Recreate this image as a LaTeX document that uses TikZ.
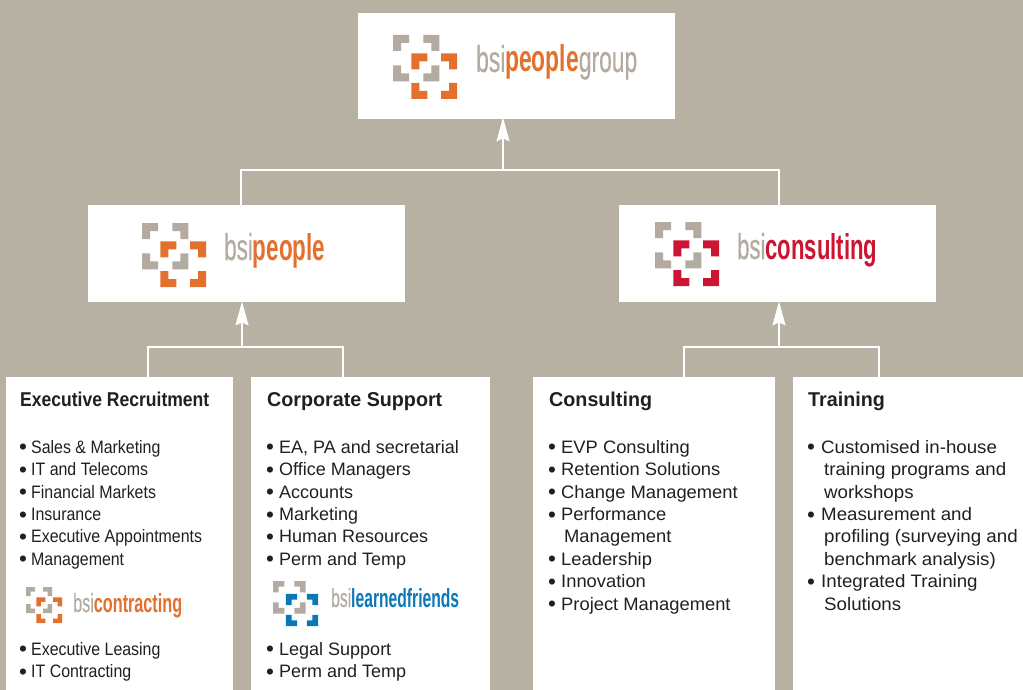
\documentclass[tikz,border=0pt]{standalone}
\usepackage{fontspec}
\usepackage{graphicx}
\setmainfont{Liberation Sans}
\newfontfamily\bodyfont[FakeStretch=0.885]{Liberation Sans}
\newfontfamily\bodywide{Liberation Sans}
\newfontfamily\bodythree[FakeStretch=1.02]{Liberation Sans}
\newfontfamily\bodyfour[FakeStretch=1.04]{Liberation Sans}
\newfontfamily\headfont[FakeStretch=0.877]{Liberation Sans Bold}
\newfontfamily\headwide[FakeStretch=0.985]{Liberation Sans Bold}
\newfontfamily\logoreg[FakeBold=0.4]{Liberation Sans}
\newfontfamily\logobold{Liberation Sans Bold}
\usetikzlibrary{arrows.meta}
\definecolor{bgc}{RGB}{183,177,163}
\definecolor{logogray}{RGB}{179,171,160}
\definecolor{bsiorange}{RGB}{227,112,45}
\definecolor{bsired}{RGB}{204,21,51}
\definecolor{bsiblue}{RGB}{10,120,184}
\definecolor{ink}{RGB}{35,31,32}
\newcommand{\dotmark}{\hspace*{-1pt}\raisebox{-1.6pt}{\scalebox{1.25}{\bodywide\textbullet}}}
\newcommand{\bul}[1]{\makebox[11pt][l]{\dotmark}#1}
\newcommand{\bulb}[1]{\makebox[12pt][l]{\dotmark}#1}
\newcommand{\bulc}[1]{\makebox[13pt][l]{\dotmark}#1}
\newcommand{\cont}[1]{\hspace*{15pt}#1}
\newcommand{\contb}[1]{\hspace*{16pt}#1}
% corner bracket: corner point, direction
\newcommand{\brk}[5]{\fill[#1] (#2,#3) -- ++(#4*48,0) -- ++(0,#5*24) -- ++(-#4*24,0) -- ++(0,#5*24) -- ++(-#4*24,0) -- cycle;}
\newcommand{\bsilogo}[4]{%x,y,size,colour
\begin{scope}[shift={(#1,#2)},x=#3/192*1pt,y=-#3/192*1pt]
\brk{logogray}{0}{0}{1}{1}
\brk{logogray}{139}{0}{-1}{1}
\brk{#4}{55}{55}{1}{1}
\brk{#4}{192}{55}{-1}{1}
\brk{logogray}{0}{139}{1}{-1}
\brk{logogray}{139}{139}{-1}{-1}
\brk{#4}{55}{192}{1}{-1}
\brk{#4}{192}{192}{-1}{-1}
\end{scope}}
\tikzset{
 panel/.style={fill=white,draw=none,inner sep=0pt,anchor=north west},
 wire/.style={draw=white,line width=1.3pt},
 arrowwire/.style={wire,-{Stealth[length=24pt,width=13pt,inset=3pt]}},
 heading/.style={anchor=base west,inner sep=0pt,text=ink,font=\headwide\fontsize{20}{24}\selectfont},
 listing/.style={anchor=north west,inner sep=0pt,align=left,text=ink,font=\bodywide\fontsize{18}{22.4}\selectfont},
 logotext/.style={anchor=base west,inner sep=0pt},
}
\begin{document}
\begin{tikzpicture}[x=1pt,y=-1pt]
\useasboundingbox (0,0) rectangle (1023,690);
\fill[bgc] (0,0) rectangle (1023,690);
% panels
\node[panel,minimum width=317pt,minimum height=106pt] (group) at (358,13) {};
\node[panel,minimum width=317pt,minimum height=97pt] (people) at (88,205) {};
\node[panel,minimum width=317pt,minimum height=97pt] (consulting) at (619,205) {};
\node[panel,minimum width=227pt,minimum height=313pt] (exec) at (6,377) {};
\node[panel,minimum width=239pt,minimum height=313pt] (corp) at (251,377) {};
\node[panel,minimum width=242pt,minimum height=313pt] (cons) at (533,377) {};
\node[panel,minimum width=230pt,minimum height=313pt] (train) at (793,377) {};
% junction points
\coordinate (jtop) at (503,170);
\coordinate (jpeople) at (241,170);
\coordinate (jcons) at (779,170);
\coordinate (jleft) at (242,347);
\coordinate (jexec) at (148,347);
\coordinate (jcorp) at (343,347);
\coordinate (jright) at (779,347);
\coordinate (jconsl) at (684,347);
\coordinate (jtrain) at (879,347);
% connectors
\draw[wire] (jpeople |- people.north) -- (jpeople) -- (jcons) -- (jcons |- consulting.north);
\draw[arrowwire] (jtop) -- ([yshift=2pt]jtop |- group.south);
\draw[wire] (jexec |- exec.north) -- (jexec) -- (jcorp) -- (jcorp |- corp.north);
\draw[arrowwire] (jleft) -- ([yshift=1pt]jleft |- people.south);
\draw[wire] (jconsl |- cons.north) -- (jconsl) -- (jtrain) -- (jtrain |- train.north);
\draw[arrowwire] (jright) -- ([yshift=1pt]jright |- consulting.south);
% logos
\bsilogo{393}{35}{64}{bsiorange}
\node[logotext] (tgroup) at (476,72) {\resizebox{161pt}{27pt}{\fontsize{37}{40}\logoreg\textcolor{logogray}{bsi}\textcolor{bsiorange}{\logobold people}\textcolor{logogray}{group}}};
\bsilogo{142}{223}{64}{bsiorange}
\node[logotext] (tpeople) at (224,260) {\resizebox{101pt}{27pt}{\fontsize{37}{40}\logoreg\textcolor{logogray}{bsi}\textcolor{bsiorange}{\logobold people}}};
\bsilogo{655}{222}{64}{bsired}
\node[logotext] (tconsulting) at (737,259) {\resizebox{140pt}{26pt}{\fontsize{37}{40}\logoreg\textcolor{logogray}{bsi}\textcolor{bsired}{\logobold consulting}}};
\bsilogo{26}{587}{36}{bsiorange}
\node[logotext] (tcontracting) at (73,612) {\resizebox{109pt}{19pt}{\fontsize{26}{30}\logoreg\textcolor{logogray}{bsi}\textcolor{bsiorange}{\logobold contracting}}};
\bsilogo{273}{581}{45}{bsiblue}
\node[logotext] (tlearned) at (331,607) {\resizebox{128pt}{19pt}{\fontsize{26}{30}\logoreg\textcolor{logogray}{bsi}\textcolor{bsiblue}{\logobold learnedfriends}}};
% headings
\node[heading,font=\headfont\fontsize{20}{24}\selectfont] (h1) at (20,406) {Executive Recruitment};
\node[heading] (h2) at (267,406) {Corporate Support};
\node[heading] (h3) at (549,406) {Consulting};
\node[heading] (h4) at (808,406) {Training};
% lists
\node[listing,font=\bodyfont\fontsize{18}{22.4}\selectfont] (l1) at (20,440) {\bul{Sales \& Marketing}\\\bul{IT and Telecoms}\\\bul{Financial Markets}\\\bul{Insurance}\\\bul{Executive Appointments}\\\bul{Management}};
\node[listing,font=\bodyfont\fontsize{18}{22.4}\selectfont] (l1b) at (20,642) {\bul{Executive Leasing}\\\bul{IT Contracting}};
\node[listing] (l2) at (267,440) {\bulb{EA, PA and secretarial}\\\bulb{Office Managers}\\\bulb{Accounts}\\\bulb{Marketing}\\\bulb{Human Resources}\\\bulb{Perm and Temp}};
\node[listing] (l2b) at (267,642) {\bulb{Legal Support}\\\bulb{Perm and Temp}};
\node[listing,font=\bodythree\fontsize{18}{22.4}\selectfont] (l3) at (549,440) {\bulb{EVP Consulting}\\\bulb{Retention Solutions}\\\bulb{Change Management}\\\bulb{Performance}\\\cont{Management}\\\bulb{Leadership}\\\bulb{Innovation}\\\bulb{Project Management}};
\node[listing,font=\bodyfour\fontsize{18}{22.4}\selectfont] (l4) at (808,440) {\bulc{Customised in-house}\\\contb{training programs and}\\\contb{workshops}\\\bulc{Measurement and}\\\contb{profiling (surveying and}\\\contb{benchmark analysis)}\\\bulc{Integrated Training}\\\contb{Solutions}};
\end{tikzpicture}
\end{document}
